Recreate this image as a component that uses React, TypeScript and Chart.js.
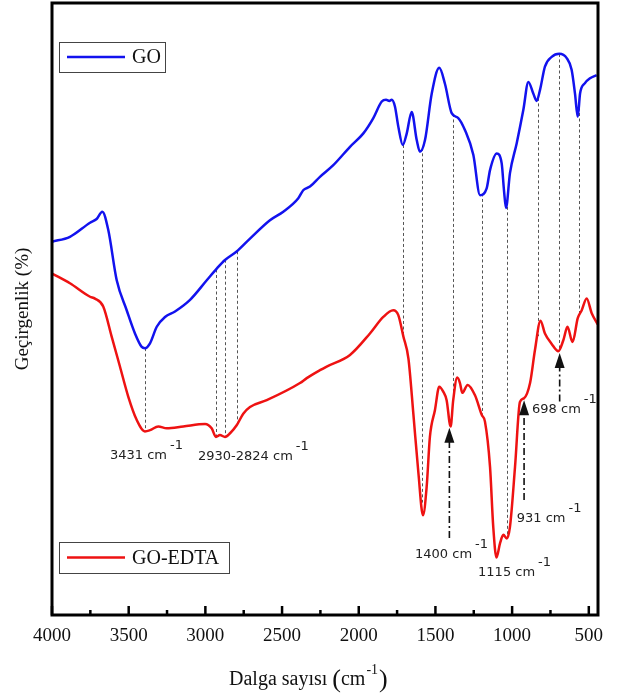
import { useEffect, useRef } from "react";
import { Chart, registerables } from "chart.js";

Chart.register(...registerables);

// ---- Data (wavenumber in cm-1, transmittance in arbitrary %) ----
const GO_WAVENUMBER = [4000, 3883, 3752, 3709, 3672, 3633, 3578, 3513, 3459, 3415, 3394, 3361, 3317, 3263, 3198, 3100, 2991, 2926, 2872, 2796, 2709, 2579, 2492, 2394, 2362, 2318, 2253, 2166, 2057, 1970, 1905, 1850, 1822, 1800, 1785, 1764, 1742, 1713, 1687, 1655, 1622, 1601, 1568, 1524, 1475, 1438, 1394, 1351, 1307, 1253, 1209, 1166, 1144, 1100, 1068, 1053, 1040, 1014, 970, 927, 894, 862, 840, 818, 786, 742, 692, 644, 612, 590, 572, 557, 525, 492, 449];
const GO_VALUES = [61.0, 61.8, 64.1, 64.7, 65.9, 62.9, 54.7, 49.8, 46.0, 43.8, 43.6, 44.4, 47.1, 48.7, 49.6, 51.5, 54.7, 56.6, 58.0, 59.4, 61.5, 64.5, 65.9, 68.1, 69.4, 70.0, 71.6, 73.5, 76.5, 78.7, 81.2, 83.9, 84.2, 84.0, 84.2, 83.1, 79.8, 76.8, 78.7, 82.2, 77.6, 75.7, 77.6, 85.2, 89.4, 86.8, 82.0, 81.2, 79.2, 75.2, 68.6, 69.7, 72.7, 75.4, 73.8, 69.4, 66.5, 72.2, 77.1, 82.5, 87.1, 85.2, 84.0, 85.8, 89.6, 91.2, 91.7, 91.0, 89.1, 85.2, 81.4, 85.2, 86.9, 87.7, 88.2];

const EDTA_WAVENUMBER = [4000, 3883, 3752, 3720, 3666, 3611, 3557, 3503, 3448, 3394, 3361, 3307, 3252, 3144, 3002, 2959, 2931, 2905, 2872, 2839, 2796, 2753, 2709, 2600, 2383, 2339, 2253, 2209, 2057, 1927, 1840, 1775, 1742, 1709, 1676, 1644, 1611, 1581, 1557, 1536, 1503, 1475, 1449, 1427, 1401, 1384, 1358, 1340, 1325, 1290, 1242, 1198, 1177, 1144, 1123, 1102, 1079, 1057, 1035, 1014, 981, 949, 923, 883, 851, 815, 786, 742, 699, 666, 639, 606, 572, 546, 514, 481, 442];
const EDTA_VALUES = [55.8, 54.2, 52.0, 51.7, 50.4, 45.5, 40.6, 35.7, 31.9, 30.0, 30.2, 30.8, 30.5, 30.8, 31.2, 30.5, 29.1, 29.4, 29.1, 29.7, 31.0, 32.9, 34.0, 35.1, 37.9, 38.7, 40.0, 40.6, 42.5, 46.0, 48.7, 49.8, 49.0, 45.5, 41.9, 32.9, 23.2, 16.3, 21.0, 29.1, 33.5, 37.3, 36.5, 35.1, 30.8, 35.1, 38.8, 37.9, 36.3, 37.6, 35.9, 32.7, 31.6, 24.2, 14.4, 9.4, 11.7, 13.1, 12.5, 14.4, 24.2, 34.8, 35.4, 37.9, 43.3, 48.1, 46.0, 44.3, 43.1, 44.9, 47.1, 44.6, 48.5, 49.8, 51.7, 49.3, 47.5];

const SERIES_NAMES = ["GO", "GO-EDTA"];

// axis ticks
const X_LABEL_TICKS = [4000, 3500, 3000, 2500, 2000, 1500, 1000, 500];
const X_MINOR_TICKS = [3750, 3250, 2750, 2250, 1750, 1250, 750];

// dotted guide lines (wavenumbers)
const GUIDE_WAVENUMBERS = [3394, 2931, 2869, 2795, 1713, 1590, 1387, 1198, 1035, 834, 695, 566];

// arrows (wavenumber, from value, to value)
const ARROW_WAVENUMBERS = [1409, 922, 690];
const ARROW_FROM = [12.6, 18.8, 34.9];
const ARROW_TO = [30.6, 35.1, 42.8];

// band labels
const BAND_LABELS = ["3431 cm", "2930-2824 cm", "1400 cm", "1115 cm", "931 cm", "698 cm"];
const BAND_LABEL_X = [3622, 3048, 1633, 1222, 970, 870];
const BAND_LABEL_Y = [26.1, 25.9, 9.8, 6.9, 15.7, 33.5];

const BLUE = "#1212ee";
const RED = "#ee1212";
const SERIF = '"Liberation Serif", "Times New Roman", serif';
const SANS = '"DejaVu Sans", Verdana, sans-serif';

function interp(xs: number[], ys: number[], w: number): number {
  for (let i = 0; i < xs.length - 1; i++) {
    const a = xs[i], b = xs[i + 1];
    if ((w <= a && w >= b) || (w >= a && w <= b)) {
      const t = (w - a) / (b - a);
      return ys[i] + t * (ys[i + 1] - ys[i]);
    }
  }
  return ys[ys.length - 1];
}

const decorPlugin = {
  id: "decor",
  beforeDatasetsDraw(chart: any) {
    const { ctx, scales } = chart;
    const x = scales.x, y = scales.y;
    ctx.save();
    ctx.strokeStyle = "#555";
    ctx.lineWidth = 1;
    ctx.setLineDash([3, 2.5]);
    GUIDE_WAVENUMBERS.forEach((w) => {
      const px = Math.round(x.getPixelForValue(w)) + 0.5;
      const y1 = y.getPixelForValue(interp(GO_WAVENUMBER, GO_VALUES, w));
      const y2 = y.getPixelForValue(interp(EDTA_WAVENUMBER, EDTA_VALUES, w));
      ctx.beginPath();
      ctx.moveTo(px, y1);
      ctx.lineTo(px, y2);
      ctx.stroke();
    });
    ctx.restore();
  },
  afterDatasetsDraw(chart: any) {
    const { ctx, chartArea, scales } = chart;
    const x = scales.x, y = scales.y;
    const { left, top, right, bottom } = chartArea;
    ctx.save();

    // frame
    ctx.strokeStyle = "#000";
    ctx.lineWidth = 3;
    ctx.setLineDash([]);
    ctx.strokeRect(left, top, right - left, bottom - top);

    // inner ticks on bottom axis
    ctx.lineWidth = 2.5;
    const drawTick = (w: number, len: number) => {
      const px = x.getPixelForValue(w);
      ctx.beginPath();
      ctx.moveTo(px, bottom);
      ctx.lineTo(px, bottom - len);
      ctx.stroke();
    };
    X_LABEL_TICKS.forEach((w) => drawTick(w, 9));
    X_MINOR_TICKS.forEach((w) => drawTick(w, 5));

    // arrows
    ARROW_WAVENUMBERS.forEach((w, i) => {
      const px = x.getPixelForValue(w);
      const yFrom = y.getPixelForValue(ARROW_FROM[i]);
      const yTip = y.getPixelForValue(ARROW_TO[i]);
      const head = 15;
      ctx.strokeStyle = "#111";
      ctx.lineWidth = 1.6;
      ctx.setLineDash([7, 3, 2, 3]);
      ctx.beginPath();
      ctx.moveTo(px, yFrom);
      ctx.lineTo(px, yTip + head - 2);
      ctx.stroke();
      ctx.setLineDash([]);
      ctx.fillStyle = "#111";
      ctx.beginPath();
      ctx.moveTo(px, yTip);
      ctx.lineTo(px - 5, yTip + head);
      ctx.lineTo(px + 5, yTip + head);
      ctx.closePath();
      ctx.fill();
    });

    // band labels with superscript -1
    ctx.fillStyle = "#222";
    ctx.textBaseline = "middle";
    ctx.textAlign = "left";
    BAND_LABELS.forEach((t, i) => {
      const px = x.getPixelForValue(BAND_LABEL_X[i]);
      const py = y.getPixelForValue(BAND_LABEL_Y[i]);
      ctx.font = `13px ${SANS}`;
      ctx.fillText(t, px, py);
      const wdt = ctx.measureText(t).width;
      ctx.fillText("-1", px + wdt + 3, py - 10);
    });

    // legend boxes
    const legends = [
      { name: SERIES_NAMES[0], color: BLUE, bx: left + 7, by: top + 39, bw: 106, bh: 30 },
      { name: SERIES_NAMES[1], color: RED, bx: left + 7, by: bottom - 73, bw: 170, bh: 31 },
    ];
    legends.forEach((l) => {
      ctx.strokeStyle = "#444";
      ctx.lineWidth = 1;
      ctx.strokeRect(l.bx + 0.5, l.by + 0.5, l.bw, l.bh);
      const cy = l.by + l.bh / 2;
      ctx.strokeStyle = l.color;
      ctx.lineWidth = 2.5;
      ctx.beginPath();
      ctx.moveTo(l.bx + 8, cy);
      ctx.lineTo(l.bx + 66, cy);
      ctx.stroke();
      ctx.fillStyle = "#111";
      ctx.font = `20px ${SERIF}`;
      ctx.textBaseline = "middle";
      ctx.fillText(l.name, l.bx + 73, cy + 1);
    });

    // x axis title with superscript
    ctx.fillStyle = "#111";
    ctx.textBaseline = "middle";
    let tx = 229;
    const ty = 680;
    ctx.font = `20px ${SERIF}`;
    ctx.fillText("Dalga sayısı ", tx, ty);
    tx += ctx.measureText("Dalga sayısı ").width;
    ctx.font = `26px ${SERIF}`;
    ctx.fillText("(", tx, ty);
    tx += ctx.measureText("(").width;
    ctx.font = `20px ${SERIF}`;
    ctx.fillText("cm", tx, ty);
    tx += ctx.measureText("cm").width + 1;
    ctx.font = `14px ${SERIF}`;
    ctx.fillText("-1", tx, ty - 10);
    tx += ctx.measureText("-1").width + 1;
    ctx.font = `26px ${SERIF}`;
    ctx.fillText(")", tx, ty);

    ctx.restore();
  },
};

export default function App() {
  const ref = useRef<HTMLCanvasElement>(null);
  useEffect(() => {
    if (!ref.current) return;
    const chart = new Chart(ref.current, {
      type: "line",
      data: {
        datasets: [
          {
            label: SERIES_NAMES[0],
            data: GO_WAVENUMBER.map((w, i) => ({ x: w, y: GO_VALUES[i] })),
            borderColor: BLUE,
            borderWidth: 2.5,
            pointRadius: 0,
            cubicInterpolationMode: "monotone",
            fill: false,
          },
          {
            label: SERIES_NAMES[1],
            data: EDTA_WAVENUMBER.map((w, i) => ({ x: w, y: EDTA_VALUES[i] })),
            borderColor: RED,
            borderWidth: 2.5,
            pointRadius: 0,
            cubicInterpolationMode: "monotone",
            fill: false,
          },
        ],
      },
      options: {
        responsive: false,
        animation: false,
        events: [],
        layout: { padding: { left: 0, right: 22, top: 3, bottom: 0 } },
        plugins: { legend: { display: false }, tooltip: { enabled: false } },
        scales: {
          x: {
            type: "linear",
            reverse: true,
            min: 440,
            max: 4000,
            afterBuildTicks: (s: any) => {
              s.ticks = X_LABEL_TICKS.map((v) => ({ value: v }));
            },
            afterFit: (s: any) => {
              s.height = 80;
            },
            grid: { display: false, drawTicks: false },
            border: { display: false },
            ticks: {
              autoSkip: false,
              maxRotation: 0,
              padding: 10,
              color: "#111",
              font: { family: SERIF, size: 19 },
              callback: (v: any) => String(v),
            },
          },
          y: {
            type: "linear",
            min: 0,
            max: 100,
            afterFit: (s: any) => {
              s.width = 52;
            },
            grid: { display: false, drawTicks: false },
            border: { display: false },
            ticks: { display: false },
            title: {
              display: true,
              text: "Geçirgenlik (%)",
              color: "#111",
              font: { family: SERIF, size: 19 },
              padding: { top: 12, bottom: 0 },
            },
          },
        },
      },
      plugins: [decorPlugin],
    } as any);
    return () => chart.destroy();
  }, []);
  return (
    <div style={{ position: "absolute", left: 0, top: 0, width: 620, height: 695, background: "#fff" }}>
      <canvas ref={ref} width={620} height={695} style={{ display: "block" }} />
    </div>
  );
}
